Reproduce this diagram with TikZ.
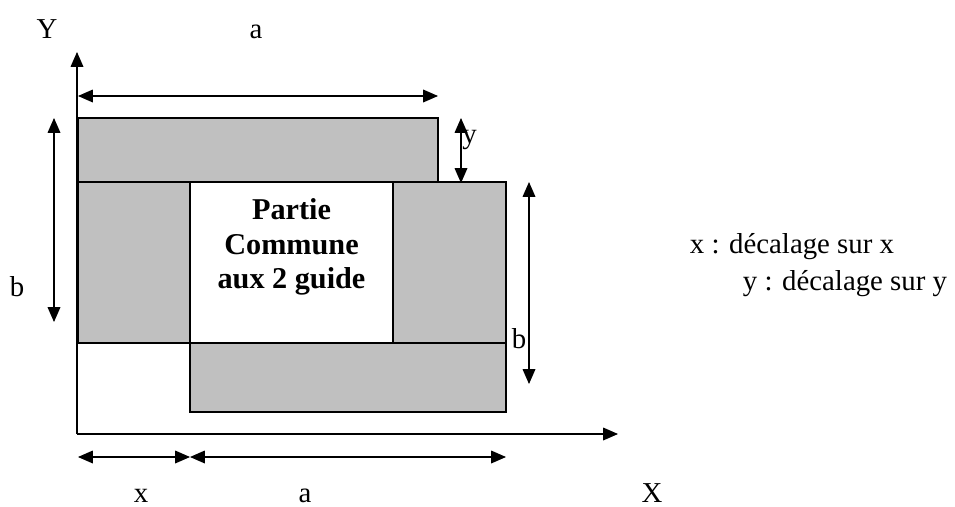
\documentclass[tikz,border=0pt]{standalone}
\usepackage{fontspec}
\setmainfont{Liberation Serif}
\usepackage{xcolor}
\usepackage{tikz}
\usetikzlibrary{arrows.meta}
\definecolor{shade}{HTML}{C0C0C0}
\definecolor{ink}{HTML}{000000}

\begin{document}
\begin{tikzpicture}[x=0.025cm,y=-0.025cm,
  every node/.style={font=\fontsize{20.5}{24}\selectfont,text=ink,inner sep=0pt},
  g/.style={draw=ink,line width=1.1pt,fill=shade},
  w/.style={draw=ink,line width=1.1pt,fill=white},
  ax/.style={-{Triangle[length=10.5pt,width=9pt]},line width=0.8pt},
  dim/.style={{Triangle[length=10.5pt,width=9pt]}-{Triangle[length=10.5pt,width=9pt]},line width=0.8pt}]
  \useasboundingbox (0,0) rectangle (955,507);
  % the two guides
  \filldraw[g] (78,118) rectangle (438,182);
  \filldraw[g] (78,182) rectangle (190,343);
  \filldraw[g] (393,182) rectangle (506,343);
  \filldraw[g] (190,343) rectangle (506,412);
  \filldraw[w] (190,182) rectangle (393,343);
  \node[font=\fontsize{21.5}{24.5}\selectfont\bfseries,align=center] (pc) at (291.5,247) {Partie\\Commune\\aux 2 guide};
  % axes
  \coordinate (o) at (77,434);
  \coordinate (ytop) at (77,52);
  \coordinate (xend) at (618,434);
  \draw[ax] (o)--(ytop);
  \draw[ax] (o)--(xend);
  \node[anchor=base] (ly) at (47,38) {Y};
  \node[anchor=base] (lx) at (652,502) {X};
  % dimensions
  \coordinate (a1) at (78,96);   \coordinate (a2) at (438,96);
  \coordinate (b1) at (54,118);  \coordinate (b2) at (54,322);
  \coordinate (y1) at (461,118); \coordinate (y2) at (461,183);
  \coordinate (c1) at (529,182); \coordinate (c2) at (529,384);
  \coordinate (x1) at (78,457);  \coordinate (x2) at (190,457);
  \coordinate (x3) at (506,457);
  \draw[dim] (a1)--(a2);
  \draw[dim] (b1)--(b2);
  \draw[dim] (y1)--(y2);
  \draw[dim] (c1)--(c2);
  \draw[dim] (x1)--(x2);
  \draw[dim] (x2)--(x3);
  \node[anchor=base] (la) at (256,38) {a};
  \node[anchor=base] (lb) at (17,296) {b};
  \node[anchor=base west] (lyy) at (462,143) {y};
  \node[anchor=base] (lbb) at (519,348) {b};
  \node[anchor=base] (lxx) at (141,502) {x};
  \node[anchor=base] (laa) at (305,502) {a};
  % legend
  \node[anchor=base] (kx) at (792,253) {x : décalage sur x};
  \node[anchor=base] (ky) at (845,290) {y : décalage sur y};
\end{tikzpicture}
\end{document}
